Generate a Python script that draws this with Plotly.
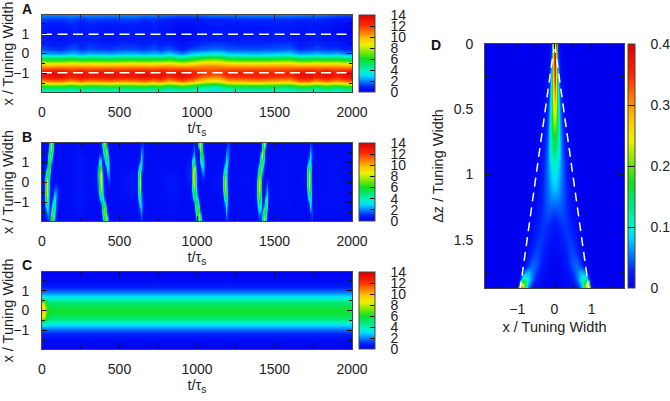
import plotly.graph_objects as go

W, H = 670, 401
FONT = "Liberation Sans"
TXT = "#222222"
SCALE = [[0, "#0000f0"], [0.07, "#0020ff"], [0.14, "#0080ff"], [0.21, "#00ddff"], [0.27, "#00f5c0"],
         [0.34, "#00e880"], [0.43, "#10e020"], [0.52, "#80e800"], [0.61, "#f0f000"], [0.70, "#ffc000"],
         [0.78, "#ff7800"], [0.87, "#ff2800"], [1, "#d80000"]]

# ---- panel A
A_y = [-1.95, -1.72, -1.55, -1.38, -1.2, -1.02, -0.82, -0.58, -0.36, -0.2, -0.03, 0.25, 0.7, 1.3, 1.75, 1.95]
A_t = [0, 60, 120, 180, 210, 250, 300, 400, 440, 500, 600, 660, 720, 760, 820, 900, 960, 1040, 1100, 1150,
       1200, 1300, 1400, 1500, 1600, 1660, 1720, 1770, 1830, 1900, 1960, 2000]
A_cols = [
    [3.6, 5.2, 7.6, 10.5, 12.4, 13.0, 12.1, 9.8, 7.0, 4.6, 2.6, 1.4, 0.8, 0.7, 1.4],
    [3.7, 5.4, 8.0, 11.0, 13.0, 13.5, 12.4, 9.7, 6.8, 4.4, 2.4, 1.2, 0.6, 0.5, 1.2],
    [3.7, 5.4, 8.0, 11.1, 13.1, 13.6, 12.5, 9.8, 6.8, 4.4, 2.3, 1.1, 0.6, 0.5, 1.2],
    [3.5, 5.1, 7.5, 10.4, 12.3, 12.9, 12.0, 9.8, 7.1, 4.7, 2.7, 1.4, 0.8, 0.8, 1.4],
    [3.6, 5.2, 7.7, 10.6, 12.5, 13.0, 12.1, 9.9, 7.1, 4.7, 2.7, 1.5, 0.9, 0.9, 1.3],
    [3.8, 5.5, 8.1, 11.2, 13.1, 13.4, 12.3, 9.7, 6.8, 4.3, 2.3, 1.1, 0.7, 0.6, 1.1],
    [3.6, 5.2, 7.6, 10.6, 12.5, 13.0, 12.1, 9.8, 7.0, 4.6, 2.6, 1.4, 0.9, 0.8, 1.3],
    [3.7, 5.3, 7.9, 10.9, 12.9, 13.3, 12.3, 9.7, 6.9, 4.5, 2.5, 1.2, 0.7, 0.6, 1.2],
    [3.7, 5.4, 8.0, 11.0, 13.0, 13.4, 12.3, 9.7, 6.8, 4.4, 2.4, 1.2, 0.6, 0.6, 1.2],
    [3.6, 5.2, 7.7, 10.7, 12.6, 13.1, 12.1, 9.8, 7.0, 4.6, 2.6, 1.4, 0.8, 0.7, 1.3],
    [3.6, 5.3, 7.8, 10.8, 12.7, 13.2, 12.3, 9.9, 7.1, 4.7, 2.7, 1.4, 0.8, 0.7, 1.3],
    [3.8, 5.5, 8.1, 11.2, 13.1, 13.5, 12.4, 9.8, 6.9, 4.5, 2.5, 1.2, 0.7, 0.6, 1.1],
    [3.6, 5.2, 7.7, 10.7, 12.6, 13.0, 12.1, 9.8, 7.1, 4.7, 2.7, 1.5, 0.9, 0.8, 1.2],
    [3.8, 5.5, 8.1, 11.2, 13.0, 13.4, 12.4, 9.9, 7.0, 4.5, 2.5, 1.2, 0.7, 0.6, 1.1],
    [3.3, 4.9, 7.2, 10.1, 12.0, 12.8, 12.1, 10.1, 7.4, 5.0, 3.0, 1.5, 0.7, 0.5, 0.9],
    [3.8, 5.5, 8.2, 11.3, 13.1, 13.5, 12.3, 9.6, 6.6, 4.1, 2.1, 0.8, 0.3, 0.2, 0.7],
    [3.5, 5.1, 7.5, 10.6, 12.5, 13.0, 12.0, 9.8, 7.2, 4.9, 2.9, 1.3, 0.5, 0.3, 0.8],
    [2.9, 4.3, 6.4, 9.0, 11.0, 12.0, 11.7, 10.4, 8.0, 5.5, 3.2, 1.6, 0.8, 0.5, 0.9],
    [2.7, 4.0, 6.0, 8.5, 10.6, 11.7, 11.6, 10.4, 8.2, 5.8, 3.5, 1.7, 0.9, 0.6, 1.0],
    [2.8, 4.2, 6.2, 8.8, 10.8, 11.8, 11.7, 10.3, 8.1, 5.6, 3.4, 1.7, 0.9, 0.6, 1.0],
    [3.4, 5.0, 7.3, 10.0, 11.9, 12.5, 11.9, 10.0, 7.4, 5.0, 2.9, 1.5, 0.8, 0.6, 1.0],
    [3.5, 5.1, 7.5, 10.2, 12.1, 12.6, 12.0, 9.9, 7.2, 4.8, 2.8, 1.4, 0.8, 0.6, 1.1],
    [3.6, 5.2, 7.6, 10.4, 12.3, 12.7, 12.0, 9.9, 7.2, 4.7, 2.7, 1.4, 0.8, 0.6, 1.1],
    [3.5, 5.0, 7.3, 10.1, 12.0, 12.5, 11.9, 10.0, 7.3, 4.9, 2.9, 1.5, 0.9, 0.7, 1.1],
    [3.3, 4.8, 7.1, 9.8, 11.8, 12.4, 11.9, 10.1, 7.5, 5.1, 3.0, 1.6, 0.9, 0.7, 1.1],
    [3.8, 5.5, 8.1, 11.2, 13.1, 13.4, 12.3, 9.8, 6.9, 4.4, 2.4, 1.1, 0.6, 0.5, 1.0],
    [3.8, 5.5, 8.1, 11.2, 13.1, 13.5, 12.4, 9.8, 6.9, 4.5, 2.5, 1.2, 0.7, 0.6, 1.0],
    [3.5, 5.1, 7.5, 10.4, 12.3, 12.9, 12.1, 9.9, 7.1, 4.7, 2.7, 1.4, 0.8, 0.6, 1.0],
    [3.8, 5.5, 8.1, 11.2, 13.1, 13.5, 12.4, 9.8, 6.9, 4.5, 2.5, 1.2, 0.6, 0.5, 0.9],
    [3.5, 5.1, 7.5, 10.4, 12.3, 12.8, 12.0, 9.9, 7.1, 4.7, 2.6, 1.2, 0.5, 0.3, 0.7],
    [3.8, 5.5, 8.1, 11.2, 13.0, 13.4, 12.2, 9.6, 6.7, 4.2, 2.2, 0.9, 0.3, 0.2, 0.6],
    [3.9, 5.6, 8.2, 11.3, 13.2, 13.6, 12.4, 9.6, 6.6, 4.2, 2.2, 0.9, 0.3, 0.2, 0.6],
]
A_top_row = [2.1, 2.0, 2.0, 2.1, 2.2, 2.0, 2.1, 2.0, 2.0, 2.1, 2.1, 1.9, 2.0, 1.9, 1.8, 1.6, 1.7, 1.8, 1.9, 1.9,
             1.9, 2.0, 2.0, 2.0, 2.0, 1.9, 1.9, 1.9, 1.8, 1.6, 1.5, 1.5]
A_dash_x = [0, 2000]
A_dash_upper = [0.98, 0.98]
A_dash_lower = [-0.98, -0.98]

# ---- panel B
B_y = [-1.95, -1.6, -1.3, -1, -0.7, -0.35, 0, 0.35, 0.7, 1, 1.3, 1.6, 1.95]
B_cols = {
    0: [.3, .3, .3, .3, .4, .4, .4, .3, .3, .3, .3, .3, .3],
    10: [.3, .3, .4, .5, .8, .9, .8, .4, .3, .3, .3, .3, .3],
    20: [.4, .7, 1.3, 2.7, 3.9, 4.3, 3.9, 1.7, .6, .3, .3, .3, .3],
    30: [.8, 1.8, 3.5, 6.2, 8.3, 9.3, 9.2, 5.9, 2.4, 1.2, .7, .3, .3],
    40: [1, 2, 2.6, 3.3, 3.9, 4.3, 4.8, 5.9, 6.6, 4.8, 2.8, 1.3, .7],
    50: [1.9, 1.3, .9, .6, .8, .9, .9, 1.7, 4.2, 6.6, 7.4, 5.5, 2.9],
    60: [5.9, 3.5, 1.7, .8, .4, .3, .3, .35, 1, 2.4, 4.8, 7.5, 8.2],
    70: [6.7, 7.3, 5.4, 3, 1.3, .6, .3, .3, .3, .4, 1, 2.7, 5.1],
    80: [2.2, 3.5, 4.8, 4.6, 3.1, 1.4, .4, .3, .3, .3, .3, .6, 1.1],
    90: [.4, .8, 1.4, 1.8, 2.1, 1.6, .5, .3, .3, .3, .3, .3, .4],
    100: [.3, .3, .4, .6, .9, 1, .4, .3, .3, .3, .3, .3, .3],
    115: [.3, .3, .3, .3, .3, .3, .3, .3, .3, .3, .3, .3, .3],
    190: [.3, .3, .4, .4, .4, .4, .4, .4, .4, .4, .4, .3, .3],
    240: [.4, .5, .6, .7, .7, .7, .7, .7, .7, .7, .6, .5, .4],
    290: [.3, .3, .3, .4, .4, .4, .4, .4, .4, .4, .3, .3, .3],
    350: [.3, .3, .3, .3, .4, .5, .6, .7, .6, .4, .3, .3, .3],
    360: [.3, .3, .3, .4, .8, 1.6, 2.2, 2.6, 2.2, 1.2, .5, .3, .3],
    370: [.3, .3, .3, .6, 2, 4.5, 5.5, 6.5, 5.5, 3.2, 1.6, .7, .3],
    380: [.3, .4, .6, 2.2, 5.3, 8.3, 9, 8.7, 6.8, 3.4, 1.4, .6, .4],
    390: [.7, 2, 4.8, 6.3, 4.5, 3.7, 3.2, 2.8, 1.9, 1, .9, 1.3, 3.1],
    400: [3.5, 7.1, 7.5, 3, 1.2, .9, .6, .4, .4, 1, 2.8, 5.5, 8],
    410: [8.3, 7.1, 2.8, .7, .4, .3, .3, .4, 1.4, 3.9, 7, 7.5, 5.1],
    420: [4.3, 2, .5, .3, .3, .3, .7, 1.6, 3.6, 5.3, 4.5, 2.7, 1.1],
    430: [.9, .4, .3, .3, .3, .3, 1.3, 2.1, 2.4, 1.9, 1, .5, .4],
    440: [.3, .3, .3, .3, .3, .3, .7, .7, .7, .5, .4, .3, .3],
    450: [.3, .3, .3, .3, .3, .3, .3, .3, .3, .3, .3, .3, .3],
    610: [.3, .3, .3, .4, .5, .7, .8, .7, .4, .3, .3, .3, .3],
    620: [.3, .4, .6, 1.3, 2.4, 3.9, 4.3, 3.9, 1.5, .6, .4, .3, .3],
    630: [.5, .9, 2.3, 3.8, 6.3, 8, 8.5, 8, 4.8, 1.9, .7, .5, .4],
    640: [1.1, 2, 2.6, 2.3, 2.2, 1.7, 1.8, 1.7, 2.8, 3.2, 2.8, 1.8, 1],
    650: [.6, .6, .7, .6, .5, .4, .4, .4, .5, .9, 1.4, 1.4, 1],
    660: [.3, .3, .3, .3, .3, .3, .3, .3, .3, .3, .4, .4, .4],
    720: [.3, .3, .3, .3, .3, .3, .3, .3, .3, .3, .3, .3, .3],
    850: [.3, .4, .4, .5, .6, .7, .7, .6, .4, .4, .3, .3, .3],
    910: [.3, .3, .3, .3, .3, .3, .3, .3, .3, .3, .3, .3, .3],
    960: [.3, .3, .3, .3, .4, .6, .9, 1.2, 1.1, .7, .4, .3, .3],
    970: [.3, .3, .3, .5, 1.3, 3.2, 5.2, 6, 5.5, 3.5, 1.3, .6, .4],
    980: [.3, .4, .7, 1.7, 4.8, 7.1, 9.7, 10.2, 8.5, 4.8, 2.7, 1.7, 1.1],
    990: [.4, 1.3, 3.1, 5.1, 5.9, 5, 5, 4.8, 3.4, 1.9, 1.2, .6, .4],
    1000: [2.7, 5.8, 7.3, 5.1, 2.3, 1.2, .9, .8, .6, .5, .4, .5, 1],
    1010: [7.4, 7.9, 3.8, 1.4, .5, .4, .4, .3, .3, .4, .7, 1.3, 5.5],
    1020: [5.5, 2.7, .8, .4, .3, .3, .3, .5, .9, 2.3, 4.8, 7.5, 8.7],
    1030: [1.3, .6, .3, .3, .3, .3, .3, 1.2, 2.7, 5.2, 6.6, 5.5, 3.6],
    1040: [.4, .3, .3, .3, .3, .3, .4, 1.8, 2.7, 2.7, 2.4, 1.3, .8],
    1050: [.3, .3, .3, .3, .3, .3, .3, .8, .8, .7, .5, .4, .3],
    1060: [.3, .3, .3, .3, .3, .3, .3, .3, .3, .3, .3, .3, .3],
    1160: [.3, .3, .3, .3, .4, .6, .7, .6, .4, .3, .3, .3, .3],
    1170: [.3, .3, .4, .7, 1.5, 3, 3.8, 2.6, 1, .5, .4, .3, .3],
    1180: [.4, .6, 1.2, 2.6, 6.5, 8.2, 8.3, 6.7, 3.6, 1.7, .7, .4, .3],
    1190: [1.1, 2.1, 3.3, 4.6, 6, 4.7, 4, 3.7, 4.2, 3.8, 2.6, 1.4, .5],
    1200: [.7, .8, 1, 1, .9, .9, .7, .6, .9, 1.8, 1.9, 1.8, 1.3],
    1210: [.3, .3, .4, .4, .3, .3, .3, .3, .3, .5, .6, .7, .8],
    1220: [.3, .3, .3, .3, .3, .3, .3, .3, .3, .3, .3, .3, .3],
    1300: [.3, .3, .4, .4, .4, .4, .4, .4, .4, .4, .3, .3, .3],
    1370: [.3, .3, .3, .3, .4, .4, .4, .3, .3, .3, .3, .3, .3],
    1380: [.3, .3, .4, .5, .7, .8, .7, .4, .3, .3, .3, .3, .3],
    1390: [.4, .6, 1.3, 2.1, 3.3, 3.9, 3.2, 1.5, .6, .4, .3, .3, .3],
    1400: [.9, 1.9, 3.9, 5.8, 7.4, 8.9, 8.9, 6.7, 3.5, 1.4, .6, .4, .3],
    1410: [.8, 1.5, 2.7, 3.5, 3.9, 4.6, 5.5, 6.7, 7.3, 6.3, 3.7, 1.4, .6],
    1420: [3.9, 2, .9, .7, .6, .6, .8, 1.8, 3.3, 6.3, 8.3, 6.8, 2.9],
    1430: [8.3, 6.8, 3, 1.1, .5, .4, .4, .6, .9, 2.2, 4, 6.5, 8.6],
    1440: [3.9, 6.3, 6.7, 4.3, 1.7, .7, .4, .3, .3, .5, .8, 1.6, 3.3],
    1450: [.9, 1.4, 3, 4, 3.2, 2.3, 1.2, .3, .3, .3, .4, .5, .7],
    1460: [.3, .4, .6, 1, 1.5, 1.1, .8, .3, .3, .3, .3, .3, .3],
    1470: [.3, .3, .3, .3, .3, .3, .3, .3, .3, .3, .3, .3, .3],
    1560: [.3, .3, .4, .4, .5, .5, .5, .5, .5, .4, .4, .3, .3],
    1640: [.3, .3, .3, .3, .3, .3, .3, .3, .3, .3, .3, .3, .3],
    1700: [.3, .3, .3, .3, .3, .4, .5, .5, .4, .3, .3, .3, .3],
    1710: [.3, .3, .4, .6, 1.3, 2.7, 3.4, 3.4, 2.6, 1, .5, .3, .3],
    1720: [.3, .4, .8, 2, 4.6, 7.6, 8.4, 8.4, 6.6, 3.2, 1.4, .6, .3],
    1730: [.5, 1, 2.6, 4.3, 4.9, 4.6, 4.3, 4.3, 4.6, 3.3, 3.2, 2, 1],
    1740: [1.1, 1.3, 1.3, .9, .7, .7, .5, .5, .6, .8, 1.3, 1.2, 1],
    1750: [.5, .5, .4, .3, .3, .3, .3, .3, .3, .3, .4, .4, .5],
    1760: [.3, .3, .3, .3, .3, .3, .3, .3, .3, .3, .3, .3, .3],
    1860: [.3, .3, .4, .5, .5, .5, .5, .5, .5, .5, .4, .3, .3],
    2000: [.3, .3, .3, .3, .3, .3, .3, .3, .3, .3, .3, .3, .3],
}

# ---- panel C
C_y_half = [0, 0.2, 0.4, 0.55, 0.7, 0.85, 1, 1.2, 1.4, 1.6, 1.95]
C_t = [0, 12, 24, 40, 70, 2000]
C_half_cols = [
    [9.8, 9.3, 7.8, 5.8, 3.7, 2.4, 1.6, 1.0, 0.7, 0.5, 0.2],
    [9.2, 8.8, 7.6, 5.6, 3.7, 2.4, 1.6, 0.9, 0.5, 0.3, 0.1],
    [7.2, 6.9, 6.2, 4.9, 3.4, 2.4, 1.7, 0.9, 0.5, 0.25, 0.1],
    [6.0, 5.7, 5.1, 4.3, 3.2, 2.4, 1.7, 0.9, 0.5, 0.25, 0.1],
    [5.8, 5.6, 5.0, 4.2, 3.2, 2.4, 1.7, 0.9, 0.5, 0.25, 0.1],
    [5.8, 5.6, 5.0, 4.2, 3.2, 2.4, 1.7, 0.9, 0.5, 0.25, 0.1],
]

# ---- panel D
D_x_half = [0, .05, .1, .15, .2, .3, .4, .5, .6, .7, .8, .85, .9, .95, 1.0, 1.87]
D_z = [0, .05, .1, .2, .3, .4, .5, .6, .7, .8, .9, 1.0, 1.1, 1.2, 1.3, 1.4, 1.5, 1.6, 1.7, 1.75, 1.8, 1.85, 1.87]
D_half_rows = [
    [.15, .36, .02, .005, 0, 0, 0, 0, 0, 0, 0, 0, 0, 0, 0, 0],
    [.38, .30, .03, .01, 0, 0, 0, 0, 0, 0, 0, 0, 0, 0, 0, 0],
    [.40, .27, .04, .01, .002, 0, 0, 0, 0, 0, 0, 0, 0, 0, 0, 0],
    [.38, .28, .07, .015, .005, 0, 0, 0, 0, 0, 0, 0, 0, 0, 0, 0],
    [.34, .26, .09, .025, .01, .002, 0, 0, 0, 0, 0, 0, 0, 0, 0, 0],
    [.30, .25, .11, .04, .015, .004, 0, 0, 0, 0, 0, 0, 0, 0, 0, 0],
    [.26, .23, .12, .055, .02, .006, .001, 0, 0, 0, 0, 0, 0, 0, 0, 0],
    [.22, .20, .125, .065, .03, .008, .003, 0, 0, 0, 0, 0, 0, 0, 0, 0],
    [.18, .17, .12, .07, .04, .012, .004, .001, 0, 0, 0, 0, 0, 0, 0, 0],
    [.145, .14, .11, .075, .045, .018, .006, .002, 0, 0, 0, 0, 0, 0, 0, 0],
    [.115, .11, .095, .07, .05, .022, .01, .003, 0, 0, 0, 0, 0, 0, 0, 0],
    [.095, .09, .08, .065, .05, .026, .012, .005, .002, 0, 0, 0, 0, 0, 0, 0],
    [.08, .075, .07, .058, .048, .03, .015, .006, .002, 0, 0, 0, 0, 0, 0, 0],
    [.055, .055, .055, .05, .045, .032, .02, .009, .003, .001, 0, 0, 0, 0, 0, 0],
    [.035, .035, .038, .04, .04, .034, .025, .013, .005, .002, 0, 0, 0, 0, 0, 0],
    [.02, .02, .024, .028, .032, .034, .03, .02, .009, .003, .001, 0, 0, 0, 0, 0],
    [.012, .012, .014, .018, .024, .032, .035, .03, .016, .006, .002, .001, 0, 0, 0, 0],
    [.008, .008, .01, .012, .016, .026, .035, .04, .03, .014, .004, .002, .001, 0, 0, 0],
    [.005, .005, .006, .008, .01, .018, .03, .045, .05, .035, .015, .006, .002, 0, 0, 0],
    [.004, .004, .005, .006, .008, .012, .02, .035, .055, .075, .06, .03, .008, .002, 0, 0],
    [.003, .003, .004, .005, .006, .008, .014, .025, .05, .09, .12, .13, .05, .005, 0, 0],
    [.002, .002, .003, .004, .004, .006, .01, .018, .03, .07, .16, .26, .28, .06, .005, 0],
    [.002, .002, .003, .003, .004, .005, .008, .012, .02, .05, .12, .26, .34, .10, .01, 0],
]
D_dash_z = [0, 1.87]
D_dash_x = [0, 0.92]

X_TICKS = [0, 500, 1000, 1500, 2000]
Y_TICKS = [-1, 0, 1]
CB_TICKS_TOP = [0, 2, 4, 6, 8, 10, 12, 14]
CB_TEXT_TOP = ["0", "2", "4", "6", "8", "10", "12", "14"]
CB_TICKS_D = [0, 0.1, 0.2, 0.3, 0.4]
CB_TEXT_D = ["0", "0.1", "0.2", "0.3", "0.4"]
PAD = "\u00a0\u00a0\u00a0"


def transpose(cols):
    return [list(r) for r in zip(*cols)]


def dom_x(a, b):
    return [a / W, b / W]


def dom_y(top, bottom):
    return [1 - bottom / H, 1 - top / H]


def colorbar(x0, x1, top, bottom, tickvals, ticktext, ticklen):
    return dict(
        x=x0 / W, xanchor="left", xref="paper", y=(H - bottom) / H, yanchor="bottom", yref="paper",
        len=(bottom - top) / H, lenmode="fraction", thickness=x1 - x0, thicknessmode="pixels",
        outlinecolor="#444444", outlinewidth=1, xpad=0, ypad=0,
        ticks="inside", ticklen=ticklen, tickcolor="#111111", tickwidth=1, tickvals=tickvals,
        ticktext=[PAD + t for t in ticktext], ticklabelposition="outside",
        tickfont=dict(family=FONT, size=14, color=TXT),
    )


fig = go.Figure()
panels = [("", 15, 92), ("2", 143, 221), ("3", 272, 349)]

bt = list(B_cols.keys())
C_y = [-v for v in C_y_half[:0:-1]] + C_y_half
C_cols_full = [col[:0:-1] + col for col in C_half_cols]
A_full = [col + [top] for col, top in zip(A_cols, A_top_row)]

data = [
    (A_t, A_y, transpose(A_full)),
    (bt, B_y, transpose([B_cols[k] for k in bt])),
    (C_t, C_y, transpose(C_cols_full)),
]
TF = dict(family=FONT, size=14, color=TXT)
TTF = dict(family=FONT, size=14.5, color=TXT)
layout = {}
for (suf, top, bottom), (tv, yv, zv) in zip(panels, data):
    fig.add_trace(go.Heatmap(
        x=tv, y=yv, z=zv, zmin=0, zmax=14, colorscale=SCALE, zsmooth="best",
        xaxis="x" + suf, yaxis="y" + suf, hoverinfo="skip",
        colorbar=colorbar(359, 375, top, bottom, CB_TICKS_TOP, CB_TEXT_TOP, 5),
    ))
    layout["xaxis" + suf] = dict(
        domain=dom_x(42, 352), range=[0, 2000], tickvals=X_TICKS, anchor="y" + suf,
        ticks="inside", ticklen=5, tickcolor="#111111", showline=True, linecolor="#444444", linewidth=1,
        mirror="allticks", showgrid=False, zeroline=False, ticklabelstandoff=7,
        minor=dict(tickvals=[250, 750, 1250, 1750], ticks="inside", ticklen=3, tickcolor="#111111"),
        title=dict(text="t/τ<sub>s</sub>", standoff=3, font=TTF),
        tickfont=TF,
    )
    layout["yaxis" + suf] = dict(
        domain=dom_y(top, bottom), range=[-1.95, 1.95], tickvals=Y_TICKS, anchor="x" + suf,
        ticks="inside", ticklen=5, tickcolor="#111111", showline=True, linecolor="#444444", linewidth=1,
        mirror="allticks", showgrid=False, zeroline=False, ticklabelstandoff=9,
        minor=dict(tickvals=[-1.5, -0.5, 0.5, 1.5], ticks="inside", ticklen=3, tickcolor="#111111"),
        title=dict(text="x / Tuning Width", standoff=1, font=TTF),
        tickfont=TF,
    )

for yy in (A_dash_upper, A_dash_lower):
    fig.add_trace(go.Scatter(x=A_dash_x, y=yy, mode="lines", xaxis="x", yaxis="y", showlegend=False,
                             hoverinfo="skip", line=dict(color="white", width=1.5, dash="10px,5.5px")))

# panel D
D_x = [-v for v in D_x_half[:0:-1]] + D_x_half
D_rows = [r[:0:-1] + r for r in D_half_rows]
fig.add_trace(go.Heatmap(
    x=D_x, y=D_z, z=D_rows, zmin=0, zmax=0.4, colorscale=SCALE, zsmooth="best",
    xaxis="x4", yaxis="y4", hoverinfo="skip",
    colorbar=colorbar(628, 635, 44, 288, CB_TICKS_D, CB_TEXT_D, 7),
))
for sgn in (-1, 1):
    fig.add_trace(go.Scatter(x=[sgn * v for v in D_dash_x], y=D_dash_z, mode="lines", xaxis="x4", yaxis="y4",
                             showlegend=False, hoverinfo="skip",
                             line=dict(color="white", width=1.5, dash="9px,6px")))
layout["xaxis4"] = dict(
    domain=dom_x(485, 624), range=[-1.87, 1.87], tickvals=Y_TICKS, anchor="y4",
    ticks="inside", ticklen=5, tickcolor="#111111", showline=True, linecolor="#444444", linewidth=1,
    mirror="allticks", showgrid=False, zeroline=False, ticklabelstandoff=8,
    minor=dict(tickvals=[-1.5, -0.5, 0.5, 1.5], ticks="inside", ticklen=3, tickcolor="#111111"),
    title=dict(text="x / Tuning Width", standoff=6, font=TTF),
    tickfont=TF,
)
layout["yaxis4"] = dict(
    domain=dom_y(44, 288), range=[1.87, 0], tickvals=[0, 0.5, 1, 1.5], ticktext=["0", "0.5", "1", "1.5"],
    anchor="x4", ticks="inside", ticklen=5, tickcolor="#111111", showline=True, linecolor="#444444", linewidth=1,
    mirror="allticks", showgrid=False, zeroline=False, ticklabelstandoff=8,
    minor=dict(tickvals=[0.25, 0.75, 1.25, 1.75], ticks="inside", ticklen=3, tickcolor="#111111"),
    title=dict(text="Δz / Tuning Width", standoff=6, font=TTF),
    tickfont=TF,
)

letters = [("A", 27, 9), ("B", 27, 137), ("C", 27, 265), ("D", 436, 45)]
annotations = [dict(text="<b>%s</b>" % t, x=px / W, y=1 - py / H, xref="paper", yref="paper", showarrow=False,
                    xanchor="center", yanchor="middle", font=dict(family=FONT, size=14, color="#111111"))
               for t, px, py in letters]

fig.update_layout(width=W, height=H, margin=dict(l=0, r=0, t=0, b=0, autoexpand=False), autosize=False,
                  paper_bgcolor="white", plot_bgcolor="white", showlegend=False,
                  annotations=annotations, **layout)
fig.write_html("out.html", config={"displayModeBar": False}, post_script="document.body.style.margin='0';")
